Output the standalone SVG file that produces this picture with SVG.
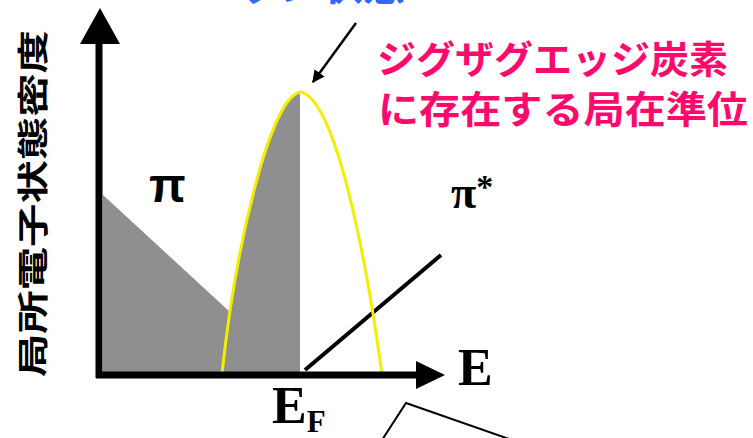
<svg xmlns="http://www.w3.org/2000/svg" width="753" height="438" viewBox="0 0 753 438">
<style>
.ax{stroke:#000;stroke-width:7;fill:none}
.jp{font-family:"Noto Sans CJK JP","Noto Sans",sans-serif;font-weight:bold}
.pink{fill:#ff0a6c;font-size:38px}
.serif{font-family:"Liberation Serif","Times New Roman",serif;font-weight:bold;fill:#000}
</style>
<defs>
<marker id="ah" viewBox="0 0 10 10" refX="9" refY="5" markerWidth="5" markerHeight="5" orient="auto" markerUnits="strokeWidth">
<path d="M0,0 L10,5 L0,10 z" fill="#000"/>
</marker>
</defs>
<rect width="753" height="438" fill="#fff"/>
<g id="top-label"><text class="jp" x="195" y="0" font-size="42" fill="#3366ff">エッジ状態</text></g>
<g id="dos-fill">
<path d="M103,195 L230,312 C240,250 268,98 300,93 L300,373 L103,373 Z" fill="#8f8f8f"/>
</g>
<g id="pistar-line"><line x1="305" y1="370" x2="441" y2="255" stroke="#000" stroke-width="4"/></g>
<g id="edge-state"><path d="M222,374 C235,250 270,95 301,92 C335,100 365,250 382,374" fill="none" stroke="#f2ee00" stroke-width="3"/></g>
<g id="axes">
<line class="ax" x1="99" y1="40" x2="99" y2="378"/>
<line class="ax" x1="96" y1="375" x2="420" y2="375"/>
<path d="M100,8 L120,44 L80,44 Z" fill="#000"/>
<path d="M445,375 L416,361 L416,389 Z" fill="#000"/>
</g>
<g id="ylabel"><text class="jp" font-size="31" fill="#000" transform="translate(44,377) rotate(-90)" textLength="347" lengthAdjust="spacingAndGlyphs">局所電子状態密度</text></g>
<g id="pi-label"><text x="149" y="202" font-family="Liberation Sans, Arial, sans-serif" font-weight="900" font-size="48" transform="translate(149,202) scale(1,1) translate(-149,-202)">π</text></g>
<g id="pistar-label"><text class="serif" x="451" y="208" font-size="46">π<tspan font-size="34" dy="-10">*</tspan></text></g>
<g id="E-label"><text class="serif" x="458" y="385" font-size="52">E</text></g>
<g id="EF-label"><text class="serif" x="272" y="423" font-size="52">E<tspan font-size="31" dy="9">F</tspan></text></g>
<g id="zigzag-label">
<text class="jp pink" x="377" y="73" textLength="351" lengthAdjust="spacingAndGlyphs">ジグザグエッジ炭素</text>
<text class="jp pink" x="378" y="123" textLength="370" lengthAdjust="spacingAndGlyphs">に存在する局在準位</text>
</g>
<g id="connectors">
<line x1="356" y1="23" x2="313" y2="82" stroke="#000" stroke-width="2.5" marker-end="url(#ah)"/>
<polyline points="382,440 406,403 512,440" fill="none" stroke="#000" stroke-width="2"/>
</g>
</svg>
